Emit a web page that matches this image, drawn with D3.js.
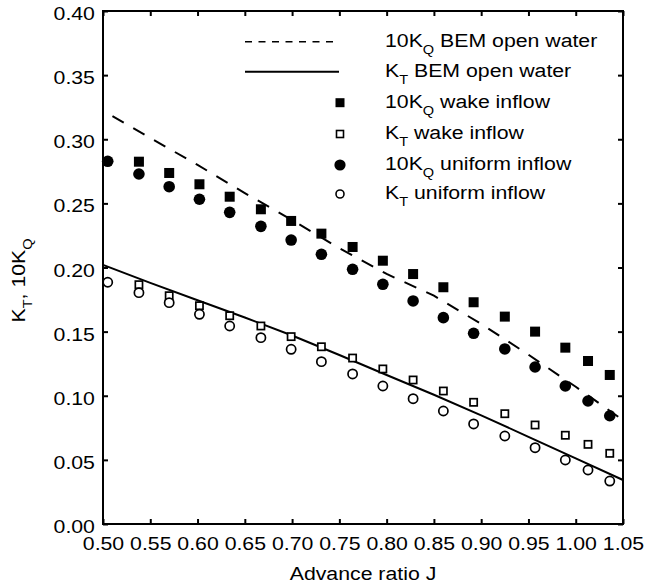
<!DOCTYPE html>
<html><head><meta charset="utf-8">
<script src="https://cdn.jsdelivr.net/npm/d3@7"></script>
<style>
body{margin:0;background:#fff;}
text{font-family:"Liberation Sans",Arial,Helvetica,sans-serif;fill:#000;}
</style></head>
<body><svg id="c" width="646" height="587"></svg>
<script>
// ---- data ----
const J = [0.505,0.538,0.570,0.602,0.634,0.667,0.699,0.731,0.764,0.796,0.828,0.860,0.892,0.925,0.957,0.989,1.013,1.036];
const kqWake = [null,0.2825,0.2737,0.2649,0.2552,0.2454,0.2363,0.2264,0.2160,0.2053,0.1949,0.1846,0.1729,0.1617,0.1500,0.1375,0.1271,0.1162];
const ktWake = [null,0.1866,0.1780,0.1702,0.1624,0.1544,0.1461,0.1382,0.1294,0.1209,0.1123,0.1037,0.0949,0.0860,0.0772,0.0692,0.0621,0.0551];
const kqUniform = [0.2828,0.2729,0.2630,0.2532,0.2430,0.2321,0.2214,0.2103,0.1986,0.1869,0.1739,0.1609,0.1487,0.1365,0.1224,0.1076,0.0959,0.0844];
const ktUniform = [0.1885,0.1804,0.1726,0.1635,0.1544,0.1453,0.1362,0.1266,0.1170,0.1076,0.0977,0.0881,0.0780,0.0686,0.0595,0.0499,0.0421,0.0335];
const bemJkq = [0.51,0.55,0.60,0.65,0.70,0.75,0.80,0.85,0.90,0.95,1.00,1.05];
const bemKq = [0.318,0.301,0.280,0.258,0.237,0.215,0.195,0.178,0.156,0.132,0.107,0.081];
const bemJkt = [0.50,0.55,0.60,0.65,0.70,0.75,0.80,0.85,0.90,0.95,1.00,1.05];
const bemKt = [0.202,0.188,0.1745,0.161,0.147,0.1318,0.1162,0.1008,0.0847,0.068,0.0512,0.0343];
const xTicks = [0.50,0.55,0.60,0.65,0.70,0.75,0.80,0.85,0.90,0.95,1.00,1.05];
const yTicks = [0.00,0.05,0.10,0.15,0.20,0.25,0.30,0.35,0.40];

const svg = d3.select('#c');
const m = {l:103, t:11, r:23, b:63};
const W = 646 - m.l - m.r, H = 587 - m.t - m.b;
const x = d3.scaleLinear().domain([0.5,1.05]).range([0,W]);
const y = d3.scaleLinear().domain([0,0.4]).range([H,0]);
const g = svg.append('g').attr('transform',`translate(${m.l},${m.t})`);
const FS = 19, SX = 1.12;

// axes
const axB = g.append('g').attr('transform',`translate(0,${H})`)
  .call(d3.axisBottom(x).tickValues(xTicks).tickFormat(d3.format('.2f')).tickSizeInner(-5).tickSizeOuter(0).tickPadding(13));
axB.selectAll('text').attr('transform',`scale(${SX},1)`);
const axL = g.append('g')
  .call(d3.axisLeft(y).tickValues(yTicks).tickFormat(d3.format('.2f')).tickSizeInner(-5).tickSizeOuter(0).tickPadding(7));
axL.selectAll('text').attr('x',-7.2).attr('dy','0.45em').attr('transform',`scale(${SX},1)`);
const axT = g.append('g')
  .call(d3.axisTop(x).tickValues(xTicks).tickFormat('').tickSizeInner(-5).tickSizeOuter(0));
const axR = g.append('g').attr('transform',`translate(${W},0)`)
  .call(d3.axisRight(y).tickValues(yTicks).tickFormat('').tickSizeInner(-5).tickSizeOuter(0));
[axB,axL,axT,axR].forEach(s=>{
  s.select('.domain').remove();
  s.selectAll('line').attr('stroke','#000').attr('stroke-width',2);
  s.selectAll('text').style('font-size',FS+'px').style('font-family','"Liberation Sans",Arial,sans-serif').attr('fill','#000');
});

// lines
const ln = d3.line().x(d=>x(d[0])).y(d=>y(d[1]));
g.append('path').datum(bemJkq.map((j,i)=>[j,bemKq[i]]))
  .attr('d',ln).attr('fill','none').attr('stroke','#000').attr('stroke-width',2).attr('stroke-dasharray','13,11');
g.append('path').datum(bemJkt.map((j,i)=>[j,bemKt[i]]))
  .attr('d',ln).attr('fill','none').attr('stroke','#000').attr('stroke-width',2);

// markers
function pts(vals){return J.map((j,i)=>[j,vals[i]]).filter(d=>d[1]!=null);}
g.selectAll('.fsq').data(pts(kqWake)).enter().append('rect')
  .attr('x',d=>x(d[0])-5).attr('y',d=>y(d[1])-5).attr('width',10).attr('height',10).attr('fill','#000');
g.selectAll('.osq').data(pts(ktWake)).enter().append('rect')
  .attr('x',d=>x(d[0])-3.6).attr('y',d=>y(d[1])-3.6).attr('width',7.2).attr('height',7.2)
  .attr('fill','#fff').attr('stroke','#000').attr('stroke-width',1.7);
g.selectAll('.fci').data(pts(kqUniform)).enter().append('circle')
  .attr('cx',d=>x(d[0])).attr('cy',d=>y(d[1])).attr('r',5.8).attr('fill','#000');
g.selectAll('.oci').data(pts(ktUniform)).enter().append('circle')
  .attr('cx',d=>x(d[0])).attr('cy',d=>y(d[1])).attr('r',4.6)
  .attr('fill','#fff').attr('stroke','#000').attr('stroke-width',1.7);

// frame
g.append('rect').attr('width',W).attr('height',H).attr('fill','none').attr('stroke','#000').attr('stroke-width',2);

// legend
const leg = svg.append('g');
const rows = [
  {main:'10K', sub:'Q', rest:' BEM open water', type:'dash'},
  {main:'K', sub:'T', rest:' BEM open water', type:'solid'},
  {main:'10K', sub:'Q', rest:' wake inflow', type:'fsq'},
  {main:'K', sub:'T', rest:' wake inflow', type:'osq'},
  {main:'10K', sub:'Q', rest:' uniform inflow', type:'fci'},
  {main:'K', sub:'T', rest:' uniform inflow', type:'oci'}
];
const rowY = [41.7,71.7,102.7,134,165,194];
rows.forEach((r,i)=>{
  const yy = rowY[i];
  if(r.type==='dash') leg.append('line').attr('x1',245).attr('x2',339).attr('y1',yy).attr('y2',yy)
      .attr('stroke','#000').attr('stroke-width',1.6).attr('stroke-dasharray','7,6.5');
  if(r.type==='solid') leg.append('line').attr('x1',245).attr('x2',339).attr('y1',yy).attr('y2',yy)
      .attr('stroke','#000').attr('stroke-width',2);
  if(r.type==='fsq') leg.append('rect').attr('x',335.5).attr('y',yy-4.5).attr('width',9).attr('height',9).attr('fill','#000');
  if(r.type==='osq') leg.append('rect').attr('x',336.5).attr('y',yy-3.5).attr('width',7).attr('height',7).attr('fill','#fff').attr('stroke','#000').attr('stroke-width',1.6);
  if(r.type==='fci') leg.append('circle').attr('cx',340).attr('cy',yy).attr('r',5.6).attr('fill','#000');
  if(r.type==='oci') leg.append('circle').attr('cx',340).attr('cy',yy).attr('r',4).attr('fill','#fff').attr('stroke','#000').attr('stroke-width',1.6);
  const t = leg.append('text').attr('transform',`translate(385,${yy+5}) scale(${SX},1)`).style('font-size',FS+'px');
  t.append('tspan').text(r.main);
  t.append('tspan').attr('dy',7).style('font-size','13px').text(r.sub);
  t.append('tspan').attr('dy',-7).text(r.rest);
});

// axis titles
svg.append('text').attr('transform',`translate(${m.l+W/2},580) scale(${SX},1)`).attr('text-anchor','middle').style('font-size',FS+'px').text('Advance ratio J');
const yl = svg.append('text').attr('transform',`translate(25,${m.t+H/2+13}) rotate(-90) scale(${SX},1)`).attr('text-anchor','middle').style('font-size',FS+'px');
yl.append('tspan').text('K');
yl.append('tspan').attr('dy',7).style('font-size','13px').text('T');
yl.append('tspan').attr('dy',-7).text(', 10K');
yl.append('tspan').attr('dy',7).style('font-size','13px').text('Q');
</script></body></html>
